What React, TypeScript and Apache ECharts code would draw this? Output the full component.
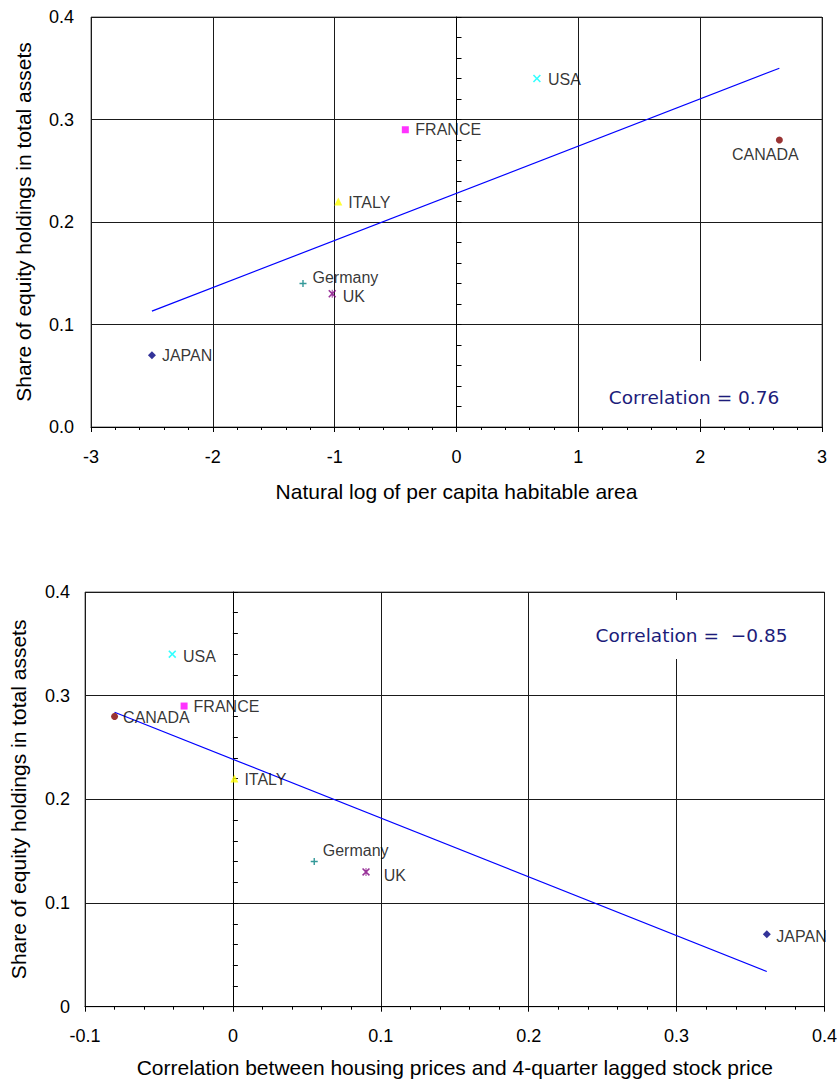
import React, { useEffect, useRef } from "react";
import * as echarts from "echarts";

// ---- Data ----
const countries = ["JAPAN", "Germany", "UK", "ITALY", "FRANCE", "USA", "CANADA"];
const equityShare = [0.07, 0.14, 0.13, 0.22, 0.29, 0.34, 0.28];
const habitableAreaLog = [-2.5, -1.26, -1.02, -0.97, -0.42, 0.66, 2.65];
const housingStockCorr = [0.361, 0.055, 0.09, 0.001, -0.033, -0.041, -0.08];

const fitTopX = [-2.5, 2.65];
const fitTopY = [0.113, 0.35];
const fitBottomX = [-0.08, 0.361];
const fitBottomY = [0.284, 0.034];

const topCorrText = "Correlation = 0.76";
const bottomCorrText = "Correlation =  \u22120.85";

const topXTitle = "Natural log of per capita habitable area";
const bottomXTitle = "Correlation between housing prices and 4-quarter lagged stock price";
const yTitle = "Share of equity holdings in total assets";

// ---- Styles ----
const PLUS = "path://M4,0H6V4H10V6H6V10H4V6H0V4H4Z";
const CROSS = "path://M1.4,0L5,3.6L8.6,0L10,1.4L6.4,5L10,8.6L8.6,10L5,6.4L1.4,10L0,8.6L3.6,5L0,1.4Z";
const STAR = "path://M1.4,0L5,3.6L8.6,0L10,1.4L6.4,5L10,8.6L8.6,10L5,6.4L1.4,10L0,8.6L3.6,5L0,1.4Z M4.4,0H5.6V10H4.4Z";

const markerSymbols = ["diamond", PLUS, STAR, "triangle", "rect", CROSS, "circle"];
const markerColors = ["#000080", "#008080", "#800080", "#FFFF00", "#FF00FF", "#00FFFF", "#800000"];
const markerSizes = [8, 7, 8, 8, 7, 8, 7];

const topLabelPos = ["right", "right", "right", "right", "right", "right", "bottom"];
const topLabelOffset = [[0, 0], [0, -6], [0.5, 2.5], [0, 0.5], [0.5, 0], [1, 0.5], [-14, -3]];
const bottomLabelOffset = [[-0.5, 2], [-1, -11], [7.7, 4], [0, 1], [0, 0.5], [0.7, 2], [-1, 1.5]];

const FONT = "'Liberation Sans', Arial, sans-serif";
const CORR_FONT = "'DejaVu Sans', Verdana, sans-serif";
const GRID_LINE = "#1a1a1a";

function buildScatter(xs: number[], gridIdx: number, positions: string[], offsets: number[][]) {
  return {
    type: "scatter",
    xAxisIndex: gridIdx,
    yAxisIndex: gridIdx * 2,
    z: 5,
    data: countries.map((c, i) => ({
      name: c,
      value: [xs[i], equityShare[i]],
      symbol: markerSymbols[i],
      symbolSize: markerSizes[i],
      itemStyle: { color: markerColors[i] },
      label: {
        show: true,
        formatter: "{b}",
        position: positions[i],
        distance: 6,
        offset: offsets[i],
        color: "#000",
        fontFamily: FONT,
        fontSize: 16,
      },
    })),
  };
}

function buildFit(xs: number[], ys: number[], gridIdx: number) {
  return {
    type: "line",
    xAxisIndex: gridIdx,
    yAxisIndex: gridIdx * 2,
    data: xs.map((x, i) => [x, ys[i]]),
    symbol: "none",
    silent: true,
    z: 4,
    lineStyle: { color: "#0000FF", width: 1.2 },
  };
}

function xAxisCfg(gridIdx: number, min: number, max: number, interval: number, name: string, nameGap: number, labelMargin: number) {
  return {
    type: "value",
    gridIndex: gridIdx,
    min,
    max,
    interval,
    name,
    nameLocation: "middle",
    nameGap,
    nameTextStyle: { color: "#000", fontFamily: FONT, fontSize: 21 },
    axisLine: { show: true, onZero: false, lineStyle: { color: "#000", width: 1 } },
    axisTick: { show: true, length: 5, lineStyle: { color: "#000" } },
    minorTick: { show: true, splitNumber: 5, length: 3, lineStyle: { color: "#000" } },
    axisLabel: { color: "#000", fontFamily: FONT, fontSize: 18, margin: labelMargin },
    splitLine: { show: true, lineStyle: { color: GRID_LINE, width: 1 } },
  };
}

function yLabelAxisCfg(gridIdx: number, nameGap: number, labelMargin: number, fmt: (v: number) => string) {
  return {
    type: "value",
    gridIndex: gridIdx,
    position: "left",
    min: 0,
    max: 0.4,
    interval: 0.1,
    name: yTitle,
    nameLocation: "middle",
    nameGap,
    nameTextStyle: { color: "#000", fontFamily: FONT, fontSize: 21 },
    axisLine: { show: false, onZero: false },
    axisTick: { show: false },
    axisLabel: { color: "#000", fontFamily: FONT, fontSize: 18, margin: labelMargin, formatter: fmt },
    splitLine: { show: true, lineStyle: { color: GRID_LINE, width: 1 } },
  };
}

function yZeroAxisCfg(gridIdx: number) {
  return {
    type: "value",
    gridIndex: gridIdx,
    position: "right",
    min: 0,
    max: 0.4,
    interval: 0.02,
    axisLine: { show: true, onZero: true, lineStyle: { color: "#000", width: 1 } },
    axisTick: { show: true, inside: false, length: 5, lineStyle: { color: "#000" } },
    axisLabel: { show: false },
    splitLine: { show: false },
  };
}

export default function App() {
  const ref = useRef<HTMLDivElement>(null);

  useEffect(() => {
    if (!ref.current) return;
    const chart = echarts.init(ref.current, undefined, { renderer: "svg" });
    const option = {
      animation: false,
      backgroundColor: "#ffffff",
      grid: [
        { left: 91, right: 18, top: 17, height: 410, show: true, borderColor: "#666", borderWidth: 1 },
        { left: 83.5, right: 15.3, top: 592, height: 414.7, show: true, borderColor: "#666", borderWidth: 1 },
      ],
      xAxis: [
        xAxisCfg(0, -3, 3, 1, topXTitle, 54, 21),
        xAxisCfg(1, -0.1, 0.4, 0.1, bottomXTitle, 50, 20),
      ],
      yAxis: [
        yLabelAxisCfg(0, 57, 17, (v: number) => v.toFixed(1)),
        yZeroAxisCfg(0),
        yLabelAxisCfg(1, 56, 15, (v: number) => (v === 0 ? "0" : v.toFixed(1))),
        yZeroAxisCfg(1),
      ],
      series: [
        buildFit(fitTopX, fitTopY, 0),
        buildScatter(habitableAreaLog, 0, topLabelPos, topLabelOffset),
        buildFit(fitBottomX, fitBottomY, 1),
        buildScatter(housingStockCorr, 1, countries.map(() => "right"), bottomLabelOffset),
      ],
      graphic: [
        { type: "rect", z: 50, shape: { x: 600, y: 361, width: 190, height: 58 }, style: { fill: "#ffffff" }, silent: true },
        {
          type: "text", z: 51, x: 694, y: 397,
          style: { text: topCorrText, fill: "#1c1c7a", font: `18.5px ${CORR_FONT}`, textAlign: "center", textVerticalAlign: "middle" },
        },
        { type: "rect", z: 50, shape: { x: 588, y: 600, width: 208, height: 59 }, style: { fill: "#ffffff" }, silent: true },
        {
          type: "text", z: 51, x: 691.5, y: 635,
          style: { text: bottomCorrText, fill: "#1c1c7a", font: `18.5px ${CORR_FONT}`, textAlign: "center", textVerticalAlign: "middle" },
        },
      ],
    };
    chart.setOption(option as any);
    return () => chart.dispose();
  }, []);

  return (
    <div
      ref={ref}
      style={{ position: "absolute", left: 0, top: 0, width: 840, height: 1081, background: "#fff" }}
    />
  );
}
